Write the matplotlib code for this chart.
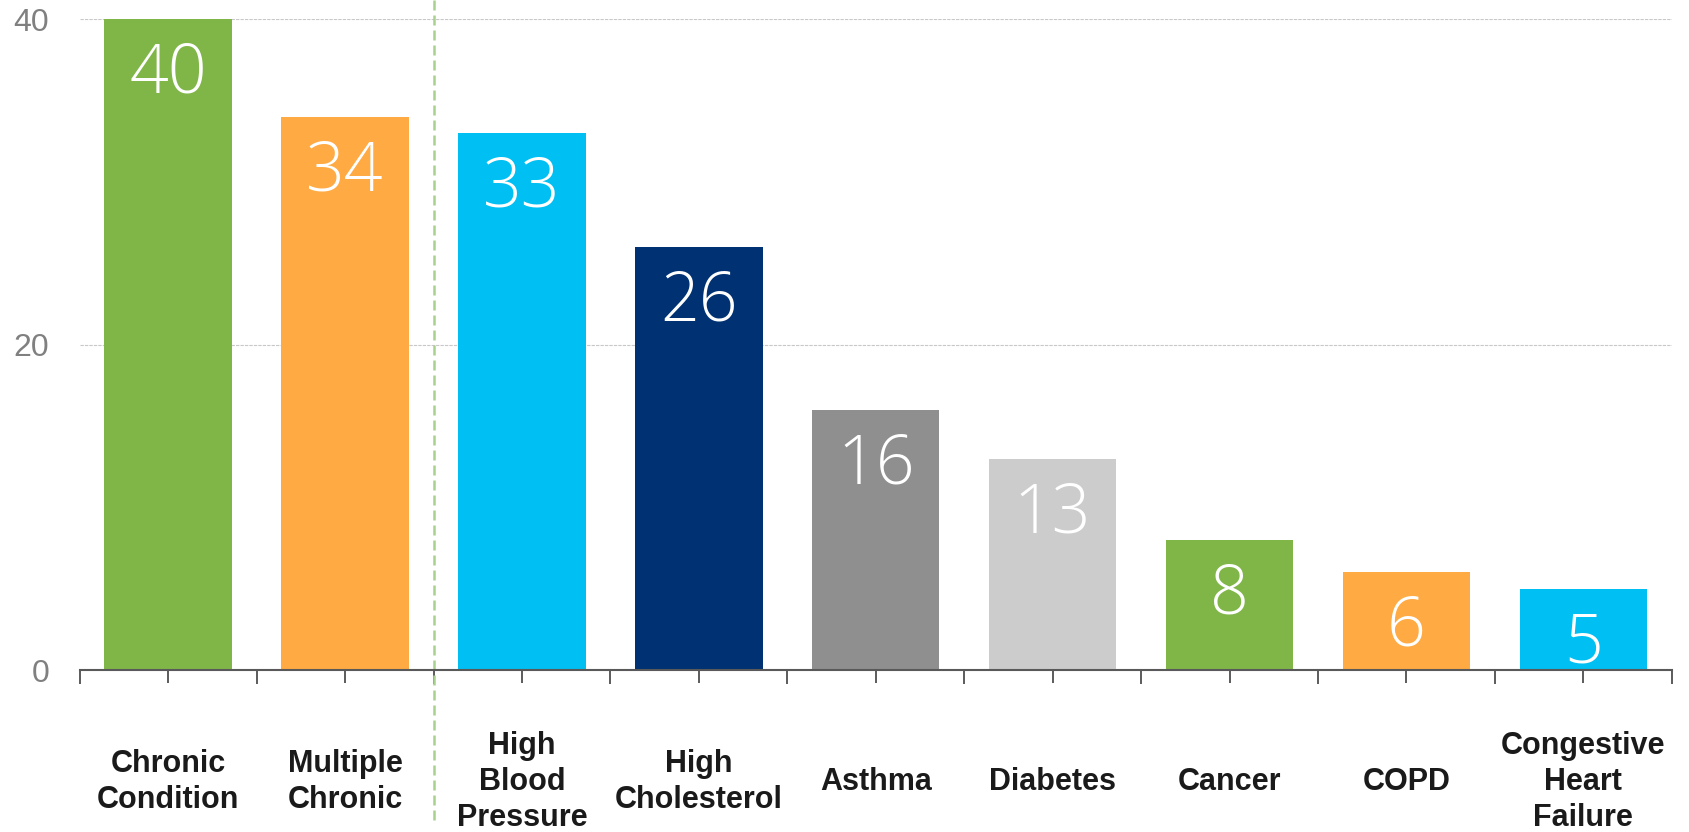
import matplotlib
matplotlib.use("Agg")
import matplotlib.pyplot as plt
import numpy as np

# prevalence (%) by condition
conditions = ["Chronic\nCondition", "Multiple\nChronic", "High\nBlood\nPressure",
              "High\nCholesterol", "Asthma", "Diabetes", "Cancer", "COPD",
              "Congestive\nHeart\nFailure"]
values = [40, 34, 33, 26, 16, 13, 8, 6, 5]
bar_colors = ["#80b648", "#ffaa42", "#00bff2", "#003172", "#8f8f8f",
              "#cccccc", "#80b648", "#ffaa42", "#00bff2"]
y_ticks = [0, 20, 40]

fig = plt.figure(figsize=(16.89, 8.32), dpi=100)
ax = fig.add_axes([0.0472, 0.1947, 0.9426, 0.782])

x = np.arange(len(values))
bars = ax.bar(x, values, width=0.72, color=bar_colors, zorder=3)

# value labels inside the top of each bar
for bar, value in zip(bars, values):
    ax.annotate(str(value), (bar.get_x() + bar.get_width() / 2, value),
                xytext=(0, -40), textcoords="offset points",
                ha="center", va="center", color="white", fontsize=49,
                family=["Open Sans", "DejaVu Sans"], fontweight="light",
                zorder=4)

ax.set_xlim(-0.5, len(values) - 0.5)
ax.set_ylim(0, 40)

ax.set_yticks(y_ticks)
ax.set_yticklabels([str(v) for v in y_ticks], fontsize=23,
                   family=["Liberation Sans", "DejaVu Sans"], color="#808080")
ax.tick_params(axis="y", length=0, pad=22)
ax.yaxis.grid(True, color="#c8c8c8", linestyle=(0, (3, 1)), linewidth=0.8,
              zorder=0)

# category centres carry the labels, boundaries get outward ticks
ax.set_xticks(x)
ax.set_xticklabels(conditions, fontsize=22, fontweight="bold",
                   family=["Liberation Sans Narrow", "Liberation Sans"],
                   color="#1a1a1a", linespacing=1.27, va="center")
ax.tick_params(axis="x", which="major", direction="inout", length=19,
               width=1.2, color="#404040", pad=71)
ax.set_xticks(np.arange(-0.5, len(values), 1.0), minor=True)
ax.tick_params(axis="x", which="minor", direction="out", length=10,
               width=1.2, color="#404040")

for side in ("left", "right", "top"):
    ax.spines[side].set_visible(False)
ax.spines["bottom"].set_color("#595959")
ax.spines["bottom"].set_linewidth(1.5)
ax.spines["bottom"].set_zorder(5)

# divider between the summary bars and single conditions
ax.axvline(1.5, ymin=-0.23, ymax=1.03, clip_on=False, color="#a9d18e",
           linestyle=(0, (4, 2)), linewidth=1.8, zorder=2)

fig.savefig("out.png", dpi=100)
